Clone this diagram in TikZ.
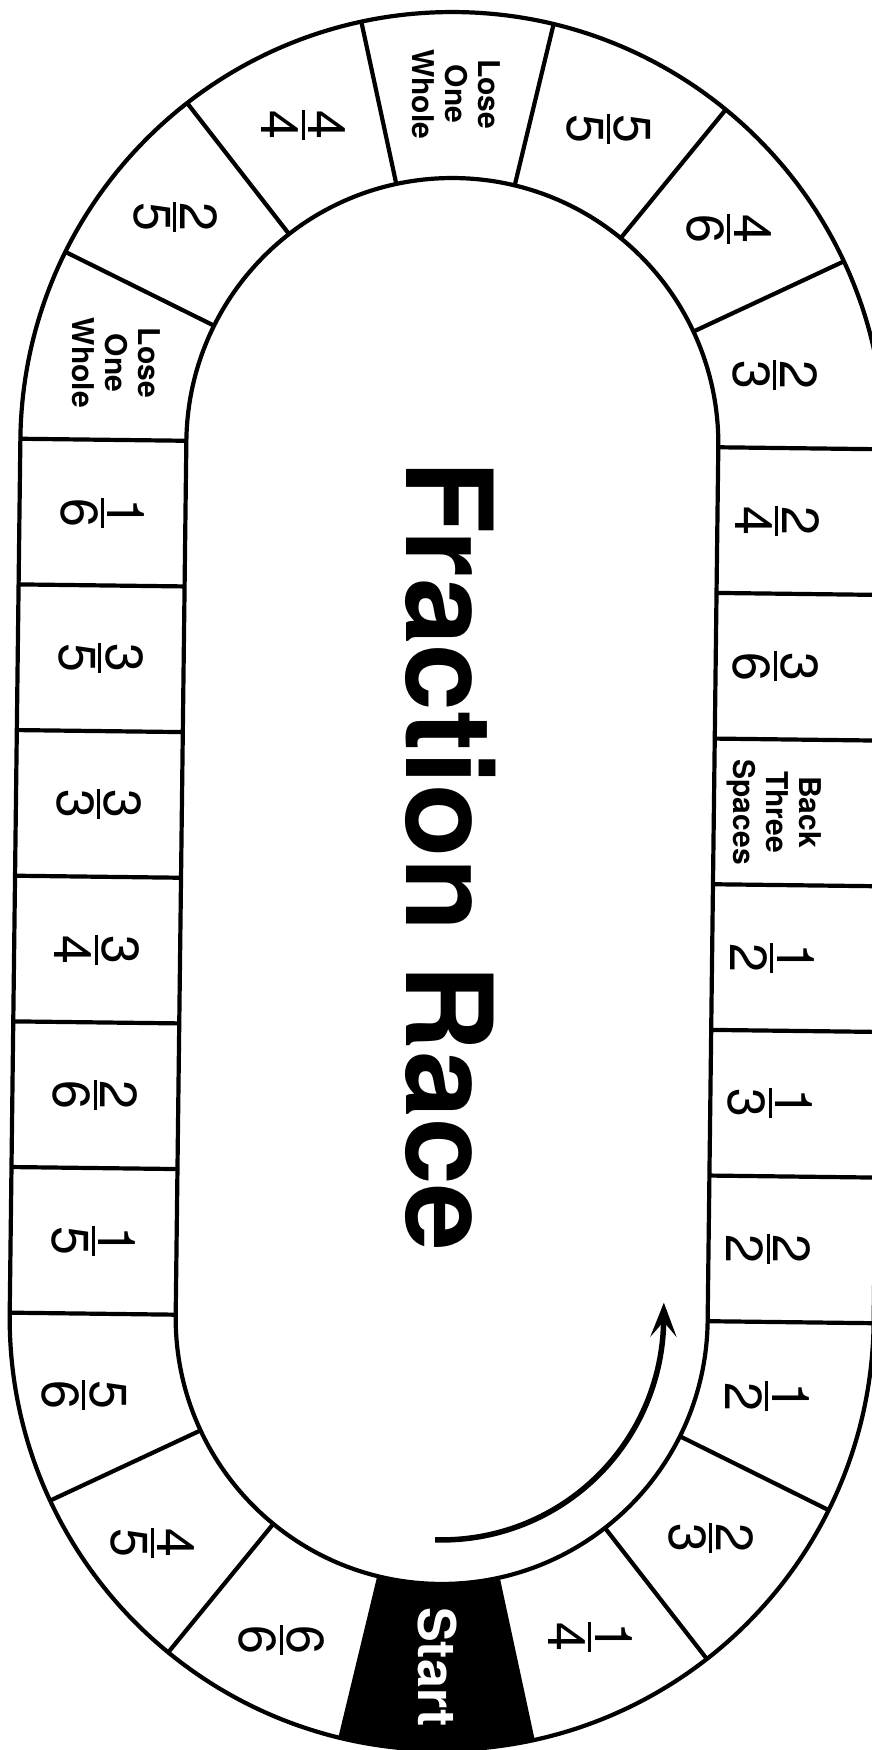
\documentclass[tikz,border=0pt]{standalone}
\usepackage{fontspec}
\setmainfont{TeX Gyre Heros}
\usetikzlibrary{arrows.meta}

\newcommand\fr[2]{\vbox{\hbox to 30pt{\hss#1\hss}\kern4pt\hrule height 3pt\kern3pt\hbox to 30pt{\hss#2\hss}}}

\begin{document}
\begin{tikzpicture}[x=1pt,y=1pt,line width=4.2pt,
  num/.style={rotate=-90,inner sep=0pt,font=\fontsize{52}{56}\selectfont},
  note/.style={rotate=-90,inner sep=0pt,align=center,font=\fontsize{30}{33}\selectfont\bfseries},
  ar/.style={-{Stealth[length=34pt,width=26pt,inset=15pt]},line width=5.5pt}]
\fill[white] (0,0) rectangle (872,1750);
\useasboundingbox (0,0) rectangle (872,1750);
\begin{scope}[rotate around={-0.7:(447,869)}]
% start square
\begin{scope}[shift={(447,432)}]
\fill (-77.14:266) arc[start angle=-77.14,end angle=-102.86,radius=266]
  -- (-102.86:432) arc[start angle=-102.86,end angle=-77.14,radius=432] -- cycle;
\end{scope}
% track
\draw (15,1306) -- (15,432) arc[start angle=180,end angle=360,radius=432]
  -- (879,1306) arc[start angle=0,end angle=180,radius=432] -- cycle;
\draw (181,1306) -- (181,432) arc[start angle=180,end angle=360,radius=266]
  -- (713,1306) arc[start angle=0,end angle=180,radius=266] -- cycle;
\foreach \k in {1,...,5}{
  \draw (15,1306-\k*145.67) -- (181,1306-\k*145.67);
  \draw (713,1306-\k*145.67) -- (879,1306-\k*145.67);}
\draw (15,1306) -- (181,1306) (713,1306) -- (879,1306);
\draw (15,432) -- (181,432) (713,432) -- (879,432);
\begin{scope}[shift={(447,1306)}]
\foreach \a in {25.71,51.43,77.14,102.86,128.57,154.29}
  \draw (\a:266) -- (\a:432);
\node[num] (t0) at (12.86:330) {\fr{2}{3}};
\node[num] (t1) at (38.57:350) {\fr{4}{6}};
\node[num] (t2) at (64.29:352) {\fr{5}{5}};
\node[note] (t3) at (90:350) {Lose\\One\\Whole};
\node[num] (t4) at (115.71:352) {\fr{4}{4}};
\node[num] (t5) at (141.43:358) {\fr{2}{5}};
\node[note] (t6) at (167.14:346) {Lose\\One\\Whole};
\end{scope}
\begin{scope}[shift={(447,432)}]
\foreach \a in {25.71,51.43,77.14,102.86,128.57,154.29}
  \draw (-\a:266) -- (-\a:432);
\node[num] (b0) at (-12.86:335) {\fr{1}{2}};
\node[num] (b1) at (-38.57:348) {\fr{2}{3}};
\node[num] (b2) at (-64.29:352) {\fr{1}{4}};
\node[rotate=-90,inner sep=0pt,text=white,font=\fontsize{52}{56}\selectfont\bfseries] (go) at (-90:349) {Start};
\node[num] (b4) at (-115.71:360) {\fr{6}{6}};
\node[num] (b5) at (-141.43:366) {\fr{4}{5}};
\node[num] (b6) at (-167.14:366) {\fr{5}{6}};
% direction of play
\coordinate (arA) at (-91:222);
\coordinate (arB) at (222,18);
\draw[ar] (arA) arc[start angle=-91,end angle=0,radius=222] -- (arB);
\end{scope}
% left side
\node[num] (l1) at (98,1233.2) {\fr{1}{6}};
\node[num] (l2) at (98,1087.5) {\fr{3}{5}};
\node[num] (l3) at (98,941.8) {\fr{3}{3}};
\node[num] (l4) at (98,796.2) {\fr{3}{4}};
\node[num] (l5) at (98,650.5) {\fr{2}{6}};
\node[num] (l6) at (98,504.8) {\fr{1}{5}};
% right side
\node[num] (r1) at (773,1233.2) {\fr{2}{4}};
\node[num] (r2) at (773,1087.5) {\fr{3}{6}};
\node[note] (r3) at (773,941.8) {Back\\Three\\Spaces};
\node[num] (r4) at (773,796.2) {\fr{1}{2}};
\node[num] (r5) at (773,650.5) {\fr{1}{3}};
\node[num] (r6) at (773,504.8) {\fr{2}{2}};
\node[rotate=-90,inner sep=0pt,font=\fontsize{120}{120}\selectfont\bfseries] (title) at (450,894) {Fraction Race};
\end{scope}
\end{tikzpicture}
\end{document}
